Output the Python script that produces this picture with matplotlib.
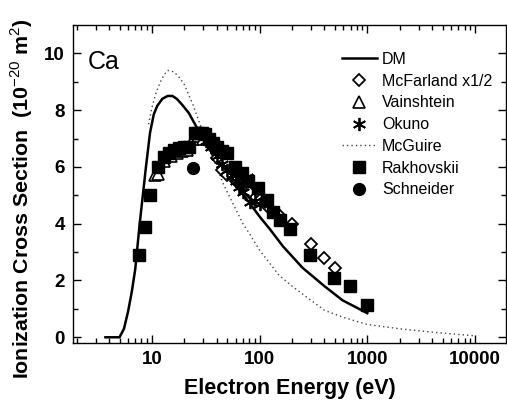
import matplotlib
matplotlib.use("Agg")
import matplotlib.pyplot as plt
from matplotlib.ticker import LogLocator, FixedLocator, NullFormatter

plt.rcParams["font.family"] = ["Liberation Sans", "DejaVu Sans"]
plt.rcParams["mathtext.fontset"] = "custom"
plt.rcParams["mathtext.rm"] = "Liberation Sans"

# DM theory curve
dm_e = [3.7, 5.0, 5.5, 6.0, 6.5, 7.0, 7.7, 8.8, 9.6, 10.4, 11.2, 12.5, 14, 15.5,
        17, 19, 22, 26, 30, 40, 50, 65, 100, 125, 165, 250, 400, 590, 1000]
dm_s = [0.0, 0.0, 0.3, 0.9, 1.6, 2.4, 4.0, 6.0, 7.2, 7.85, 8.15, 8.4, 8.5, 8.5,
        8.4, 8.2, 7.9, 7.4, 7.0, 6.2, 5.7, 5.2, 4.25, 3.8, 3.2, 2.45, 1.8, 1.3,
        0.85]

# McGuire curve
mg_e = [9.3, 10, 11, 12, 13, 14, 16, 18, 20, 24, 28, 34, 40, 46, 55, 70, 76,
        100, 150, 200, 300, 400, 600, 1000, 2000, 4000, 10000]
mg_s = [7.5, 8.1, 8.65, 9.0, 9.25, 9.4, 9.35, 9.15, 8.9, 8.2, 7.5, 6.6, 6.0,
        5.4, 4.8, 4.0, 3.8, 3.07, 2.2, 1.8, 1.3, 0.95, 0.7, 0.45, 0.3, 0.18,
        0.05]

# McFarland x1/2
mf_e = [40, 45, 50, 60, 70, 80, 100, 120, 150, 200, 300, 400, 500]
mf_s = [6.3, 5.9, 5.7, 5.5, 5.3, 5.1, 4.85, 4.6, 4.3, 4.0, 3.3, 2.78, 2.43]

# Vainshtein
va_e = [10.7, 11.4, 13, 15, 17, 19, 21, 24, 27, 30]
va_s = [5.7, 5.75, 6.2, 6.4, 6.5, 6.55, 6.6, 7.0, 7.1, 7.0]

# Okuno
ok_e = [28, 32, 35, 40, 45, 50, 55, 60, 65, 70, 76, 81, 90, 100]
ok_s = [7.2, 6.9, 6.7, 6.4, 6.1, 5.9, 5.7, 5.5, 5.3, 5.1, 5.65, 4.75, 4.8, 4.7]

# Rakhovskii
rk_e = [7.6, 8.6, 9.6, 11.4, 13, 14.5, 16, 18, 20, 22, 25, 27, 29, 31, 34, 37,
        40, 45, 50, 59, 68, 78, 97, 117, 133, 154, 190, 293, 490, 690, 1000]
rk_s = [2.9, 3.9, 5.0, 6.0, 6.35, 6.5, 6.6, 6.65, 6.7, 6.7, 7.2, 7.2, 7.2, 7.15,
        7.0, 6.85, 6.7, 6.55, 6.5, 6.0, 5.8, 5.5, 5.27, 4.84, 4.4, 4.13, 3.8,
        2.9, 2.1, 1.8, 1.13]

# Schneider
sc_e = [24]
sc_s = [5.97]

fig = plt.figure(figsize=(5.07, 4.03), dpi=100)
ax = fig.add_axes([0.144, 0.149, 0.854, 0.789])

ax.plot(dm_e, dm_s, color="black", lw=1.8, label="DM", zorder=3)
ax.plot(mf_e, mf_s, linestyle="none", marker="D", ms=6.5, mfc="white",
        mec="black", mew=1.3, label="McFarland x1/2", zorder=4)
ax.plot(va_e, va_s, linestyle="none", marker="^", ms=8, mfc="white",
        mec="black", mew=1.2, label="Vainshtein", zorder=4)
ax.plot(ok_e, ok_s, linestyle="none", marker=(6, 2, 0), ms=9.5, color="black",
        mew=1.3, label="Okuno", zorder=5)
ax.plot(mg_e, mg_s, color="#444444", lw=1.0, linestyle=(0, (1, 2.2)),
        label="McGuire", zorder=2)
ax.plot(rk_e, rk_s, linestyle="none", marker="s", ms=8, color="black",
        label="Rakhovskii", zorder=5)
ax.plot(sc_e, sc_s, linestyle="none", marker="o", ms=8.5, color="black",
        label="Schneider", zorder=5)

ax.set_xscale("log")
ax.set_xlim(1.85, 19400)
ax.set_ylim(-0.2, 11)

ax.xaxis.set_major_locator(FixedLocator([10, 100, 1000, 10000]))
ax.xaxis.set_minor_locator(LogLocator(base=10, subs=range(2, 10), numticks=20))
ax.xaxis.set_minor_formatter(NullFormatter())
ax.set_xticks([10, 100, 1000, 10000])
ax.set_xticklabels(["10", "100", "1000", "10000"])
ax.set_yticks([0, 2, 4, 6, 8, 10])
ax.set_yticks([1, 3, 5, 7, 9], minor=True)

ax.tick_params(which="both", direction="in", top=True, right=True,
               width=1.0, labelsize=13.5, pad=6)
ax.tick_params(which="major", length=6)
ax.tick_params(which="minor", length=3.5)
for lab in ax.get_xticklabels() + ax.get_yticklabels():
    lab.set_fontweight("bold")
for sp in ax.spines.values():
    sp.set_linewidth(1.0)

ax.set_xlabel("Electron Energy (eV)", fontsize=15.5, fontweight="bold",
              labelpad=7)
ax.set_ylabel("Ionization Cross Section  (10$^{-20}$ m$^{2}$)", fontsize=15.4,
              fontweight="bold")
ax.yaxis.set_label_coords(-0.088, 0.453)

ax.text(0.035, 0.92, "Ca", transform=ax.transAxes, fontsize=18,
        va="top", ha="left")

ax.legend(loc="upper right", bbox_to_anchor=(0.99, 0.945), frameon=False,
          fontsize=11.5, handlelength=2.2, handletextpad=0.3,
          labelspacing=0.42, borderaxespad=0.2)

fig.savefig("out.png", dpi=100)
